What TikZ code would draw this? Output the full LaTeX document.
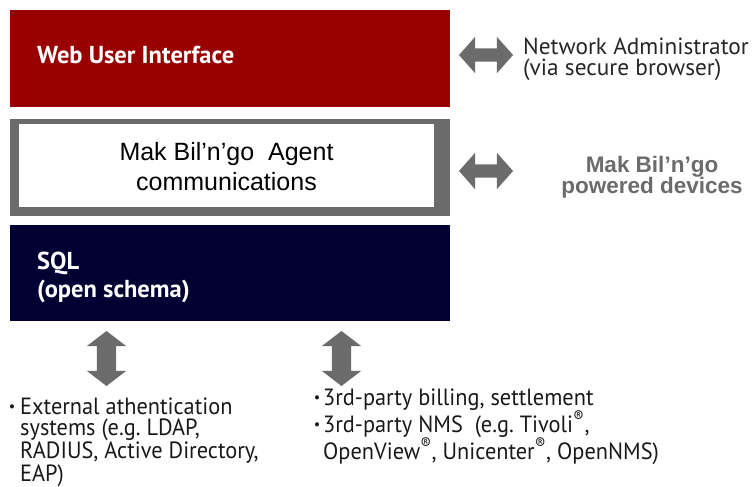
\documentclass[tikz,border=0pt]{standalone}
\usepackage{fontspec}
\setmainfont{PT Sans}
\newfontfamily\arialfont{Liberation Sans}
\newfontfamily\narrowfont[FakeStretch=0.95]{PT Sans}
\usetikzlibrary{positioning,shapes.arrows}

\definecolor{webred}{HTML}{990000}
\definecolor{sqlnavy}{HTML}{000033}
\definecolor{blockgray}{HTML}{6B6B6B}

\newcommand{\dotitem}[1]{\llap{\raisebox{3pt}{\fontsize{15}{15}\selectfont•}\hspace{#1}}}

\begin{document}
\begin{tikzpicture}[
    x=1pt, y=-1pt,
    layer/.style={inner sep=0pt, outer sep=0pt, minimum width=440pt, minimum height=97pt},
    boxtext/.style={inner sep=0pt, text=white, align=left, anchor=base west, font=\fontsize{24.5}{28}\selectfont\bfseries},
    sidetext/.style={inner sep=0pt, align=left, anchor=base west, text=black!85, font=\fontsize{23.3}{21.5}\selectfont},
    listtext/.style={inner sep=0pt, align=left, anchor=base west, text=black!90, font=\narrowfont\fontsize{23.5}{21.3}\selectfont},
    harrow/.style={double arrow, fill=blockgray, inner xsep=0pt, inner ysep=6.5pt, minimum height=54pt, double arrow head extend=11.5pt, double arrow tip angle=97},
    varrow/.style={double arrow, fill=blockgray, inner xsep=0pt, inner ysep=9.5pt, minimum height=55pt, double arrow head extend=10pt, double arrow tip angle=105, rotate=90},
]
\useasboundingbox (0,0) rectangle (755,487);

\node[layer, fill=webred, anchor=north west] (web) at (10,10) {};
\node[layer, fill=blockgray, below=12pt of web] (frame) {};
\node[layer, fill=sqlnavy, below=9pt of frame, minimum height=96pt] (sql) {};
\node[fill=white, inner sep=0pt, minimum width=415pt, minimum height=83pt, anchor=north west] (agent) at (19,124) {};

\node[boxtext] (webtext) at (37,63.3) {Web User Interface};
\node[boxtext] (sqltext) at (37,297) {SQL\\(open schema)};
\node[inner sep=0pt, anchor=base, align=center, font=\arialfont\fontsize{25}{30}\selectfont] (agenttext) at (226.5,190) {Mak Bil’n’go~ Agent\\communications};

\node[harrow] (adminarrow) at (486,55) {};
\node[harrow] (devarrow) at (486,171) {};
\node[sidetext] (admin) at (523,76) {Network Administrator\\(via secure browser)};
\node[inner sep=0pt, anchor=base, align=center, text=blockgray, font=\arialfont\fontsize{22.5}{21.5}\selectfont\bfseries] (devices) at (652,193.5) {Mak Bil’n’go\\powered devices};

\node[varrow] (autharrow) at (106.5,358.5) {};
\node[varrow] (nmsarrow) at (341.5,358.5) {};
\node[listtext] (auth) at (20,481) {\dotitem{5pt}External athentication\\systems (e.g.\ LDAP,\\RADIUS, Active Directory,\\EAP)};
\node[listtext] (nms) at (323,459) {\dotitem{3pt}3rd-party billing, settlement\\\dotitem{3pt}3rd-party NMS~ (e.g.\ Tivoli\textsuperscript{®},\\OpenView\textsuperscript{®}, Unicenter\textsuperscript{®}, OpenNMS)};
\end{tikzpicture}
\end{document}
